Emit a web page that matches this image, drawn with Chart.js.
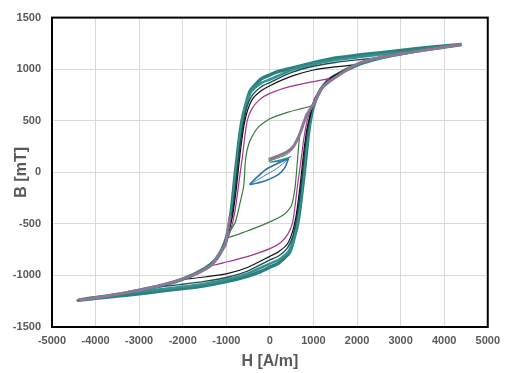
<!DOCTYPE html>
<html>
<head>
<meta charset="utf-8">
<script src="https://cdn.jsdelivr.net/npm/chart.js@4.4.1/dist/chart.umd.min.js"></script>
<style>
  body { margin: 0; background: #fff; }
</style>
</head>
<body>
<canvas id="chart" width="507" height="373"></canvas>
<script>
// hysteresis loops, [H (A/m), B (mT)]
const outerLoop = [
  [4400, 1240], [4000, 1225], [3500, 1205], [3000, 1182], [2500, 1158], [2000, 1135],
  [1500, 1108], [1000, 1062], [500, 1010], [200, 978], [0, 945], [-200, 905],
  [-450, 790], [-560, 640], [-640, 500], [-700, 330], [-750, 150], [-790, 0],
  [-830, -160], [-870, -320], [-920, -480], [-1000, -640], [-1100, -750], [-1250, -850],
  [-1500, -935], [-2000, -1036], [-2500, -1100], [-3000, -1145], [-3500, -1185], [-4000, -1215],
  [-4400, -1240], [-4000, -1222], [-3500, -1200], [-3000, -1178], [-2500, -1152], [-2000, -1128],
  [-1500, -1100], [-1000, -1060], [-500, -1005], [-200, -960], [0, -920], [200, -880],
  [450, -775], [560, -630], [640, -490], [700, -320], [750, -140], [790, 0],
  [830, 160], [870, 320], [920, 480], [1000, 640], [1100, 750], [1250, 850],
  [1500, 935], [2000, 1040], [2500, 1105], [3000, 1148], [3500, 1185], [4000, 1215], [4400, 1240]
];

const loopA = [
  [3300, 1168], [3000, 1160], [2500, 1140], [2000, 1115], [1500, 1088], [1000, 1048],
  [500, 992], [0, 900], [-200, 865], [-420, 785], [-545, 665], [-625, 510],
  [-690, 320], [-740, 140], [-780, -20], [-825, -200], [-875, -380], [-935, -530],
  [-1020, -690], [-1170, -800], [-1330, -895], [-1600, -965], [-2000, -1036], [-2500, -1100],
  [-3000, -1145], [-3300, -1165], [-3000, -1155], [-2500, -1135], [-2000, -1110], [-1500, -1080],
  [-1000, -1040], [-500, -980], [0, -885], [200, -848], [420, -770], [545, -650],
  [625, -495], [690, -305], [740, -125], [780, 30], [825, 210], [875, 390],
  [935, 540], [1020, 690], [1170, 800], [1330, 895], [1600, 965], [2000, 1045],
  [2500, 1108], [3000, 1148], [3300, 1168]
];

const loopB = [
  [2550, 1113], [2000, 1090], [1500, 1065], [1000, 1028], [500, 968], [0, 870],
  [-200, 830], [-400, 750], [-530, 630], [-610, 470], [-680, 280], [-730, 100],
  [-770, -60], [-815, -240], [-870, -410], [-940, -560], [-1030, -710], [-1170, -800],
  [-1330, -895], [-1600, -965], [-2000, -1036], [-2550, -1108], [-2000, -1085], [-1500, -1058],
  [-1000, -1020], [-500, -955], [0, -850], [200, -812], [400, -735], [530, -615],
  [610, -455], [680, -265], [730, -85], [770, 75], [815, 255], [870, 420],
  [940, 570], [1030, 710], [1170, 800], [1330, 895], [1600, 965], [2000, 1045], [2550, 1113]
];

const loopC = [
  [2000, 1045], [1500, 1022], [1000, 992], [500, 932], [0, 840], [-200, 790],
  [-400, 710], [-520, 590], [-600, 440], [-660, 260], [-710, 80], [-750, -80],
  [-800, -260], [-860, -430], [-940, -570], [-1030, -710], [-1170, -800], [-1330, -895],
  [-1600, -965], [-2000, -1036], [-1500, -1015], [-1000, -985], [-500, -920], [0, -815],
  [200, -770], [400, -695], [520, -575], [600, -425], [660, -245], [710, -65],
  [750, 95], [800, 275], [860, 440], [940, 575], [1030, 710], [1170, 800],
  [1330, 895], [1600, 965], [2000, 1045]
];

const purpleLoop = [
  [1360, 908], [1000, 880], [500, 835], [0, 765], [-250, 700], [-420, 610],
  [-520, 500], [-580, 330], [-630, 150], [-680, 0], [-730, -160], [-780, -320],
  [-850, -480], [-930, -600], [-1030, -710], [-1170, -800], [-1380, -905], [-1000, -870],
  [-500, -815], [0, -740], [250, -680], [420, -595], [520, -490], [580, -320],
  [630, -140], [680, 10], [730, 170], [780, 330], [850, 490], [930, 600],
  [1030, 710], [1170, 800], [1360, 908]
];

const greenLoop = [
  [990, 646], [700, 615], [420, 583], [0, 519], [-260, 440], [-450, 312],
  [-530, 200], [-565, 90], [-600, -130], [-680, -290], [-790, -480], [-975, -630],
  [-565, -576], [0, -481], [346, -402], [497, -322], [573, -164], [610, -5],
  [640, 150], [670, 300], [700, 390], [780, 480], [870, 570], [990, 646]
];

const blueLoop = [
  [430, 135], [200, 90], [-100, 25], [-300, -50], [-460, -118], [-250, -100],
  [-100, -82], [200, -20], [350, 50], [430, 135]
];
const blueInner = [
  [-460, -118], [-150, -40], [150, 35], [430, 130]
];

const smallGreenLoop = [
  [-30, 108], [200, 140], [400, 175], [530, 232], [400, 192], [200, 156], [-30, 108]
];
const smallTealLoop = [
  [0, 98], [250, 122], [480, 150], [250, 110], [0, 98]
];

// initial curve from the small loops up to the right tip, and its lower-left twin
const grayRight = [
  [-30, 125], [100, 145], [250, 170], [400, 200], [530, 245], [620, 310],
  [690, 376], [760, 460], [850, 560], [1000, 662], [1200, 820], [1500, 920],
  [2000, 1050], [2500, 1110], [3000, 1148], [3500, 1182], [4000, 1215], [4400, 1240]
];
const grayLeft = [
  [-4400, -1240], [-3907, -1211], [-3500, -1182], [-2995, -1141], [-2500, -1095], [-2009, -1036],
  [-1629, -973], [-1326, -894], [-1173, -798], [-1021, -703], [-945, -512], [-910, -420]
];

const xTicks = [-5000, 5000, 1000];
const yTicks = [-1500, 1500, 500];

const toPoints = (arr) => arr.map(([h, b]) => ({ x: h, y: b }));

const line = (data, color, width) => ({
  data: toPoints(data),
  borderColor: color,
  borderWidth: width,
  showLine: true,
  pointRadius: 0,
  tension: 0.2,
  fill: false,
});

const frame = {
  id: 'frame',
  afterDraw(chart) {
    const { ctx, chartArea: a } = chart;
    ctx.save();
    ctx.strokeStyle = '#000';
    ctx.lineWidth = 2;
    ctx.strokeRect(a.left, a.top, a.right - a.left, a.bottom - a.top);
    ctx.restore();
  },
};

const tickFont = { family: 'Liberation Sans', size: 11, weight: 'bold' };
const titleFont = { family: 'Liberation Sans', size: 16, weight: 'bold' };
const plain = (v) => String(v);

new Chart(document.getElementById('chart'), {
  type: 'scatter',
  data: {
    // first dataset ends up on top
    datasets: [
      line(grayRight, '#8c7896', 3),
      line(grayLeft, '#8c7896', 3),
      line(blueLoop, '#2d74a8', 1.6),
      line(blueInner, '#3f86b8', 1),
      line(smallTealLoop, '#2e8a86', 1.2),
      line(smallGreenLoop, '#4a8a45', 1),
      line(greenLoop, '#3d7b3a', 1.2),
      line(purpleLoop, '#a0358f', 1.2),
      line(loopC, '#111111', 1.2),
      line(loopB, '#1d4f5a', 1.4),
      line(loopA, '#34938f', 2.5),
      line(outerLoop, '#2b817d', 3.5),
    ],
  },
  options: {
    responsive: false,
    animation: false,
    layout: { padding: { top: 12, right: 16, left: 0, bottom: 0 } },
    plugins: {
      legend: { display: false },
      tooltip: { enabled: false },
    },
    scales: {
      x: {
        type: 'linear',
        min: xTicks[0],
        max: xTicks[1],
        afterFit: (scale) => { scale.height = 46; },
        ticks: { stepSize: xTicks[2], color: '#595959', font: tickFont, padding: 7, maxRotation: 0, callback: plain },
        grid: { color: '#d9d9d9', drawTicks: false },
        border: { display: false },
        title: { display: true, text: 'H [A/m]', color: '#595959', font: titleFont, padding: { top: 0, bottom: 2 } },
      },
      y: {
        type: 'linear',
        min: yTicks[0],
        max: yTicks[1],
        afterFit: (scale) => { scale.width = 52; },
        ticks: { stepSize: yTicks[2], color: '#595959', font: tickFont, padding: 11, callback: plain },
        grid: { color: '#d9d9d9', drawTicks: false },
        border: { display: false },
        title: { display: true, text: 'B [mT]', color: '#595959', font: titleFont, padding: { top: 12, bottom: 0 } },
      },
    },
  },
  plugins: [frame],
});
</script>
</body>
</html>
